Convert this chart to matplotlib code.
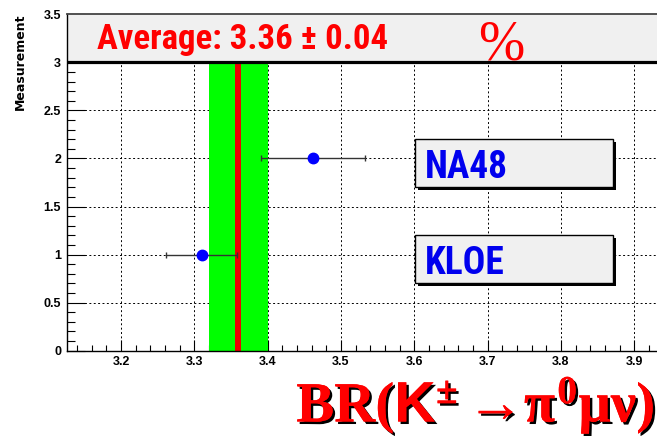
import matplotlib
matplotlib.use("Agg")
import matplotlib.pyplot as plt
from matplotlib.patches import Rectangle
from matplotlib import patheffects as pe
import numpy as np

# ---- data ----
experiments = ["KLOE", "NA48"]
exp_y = [1, 2]
exp_values = [3.310, 3.462]
exp_errors = [0.048, 0.071]
average = 3.36
average_err = 0.04
xtick_vals = [3.2, 3.3, 3.4, 3.5, 3.6, 3.7, 3.8, 3.9]
xtick_labels = ["3.2", "3.3", "3.4", "3.5", "3.6", "3.7", "3.8", "3.9"]
ytick_vals = [0, 0.5, 1, 1.5, 2, 2.5, 3, 3.5]
ytick_labels = ["0", "0.5", "1", "1.5", "2", "2.5", "3", "3.5"]

plt.rcParams['mathtext.fontset'] = 'custom'
plt.rcParams['mathtext.rm'] = 'Liberation Serif:bold'
plt.rcParams['mathtext.it'] = 'Liberation Serif:bold'
plt.rcParams['mathtext.bf'] = 'Liberation Serif:bold'
plt.rcParams['mathtext.sf'] = 'Liberation Sans:bold'

COND = ['Roboto Condensed', 'DejaVu Sans Condensed', 'Liberation Sans Narrow',
        'Arial Narrow', 'Liberation Sans']

W, H = 657, 436
fig = plt.figure(figsize=(W / 100, H / 100), dpi=100)
fig.patch.set_facecolor('white')

x0, x1 = 66.7, 657
yb, yt = 350.7, 14.3
ax = fig.add_axes([x0 / W, (H - yb) / H, (x1 - x0) / W, (yb - yt) / H])
ax.set_xlim(3.126, 3.931)
ax.set_ylim(0, 3.5)
ax.set_axisbelow(True)

# grid
ax.grid(True, which='major', color='black', linestyle=(0, (2, 2.5)), linewidth=0.7)

# ticks
ax.set_xticks(xtick_vals)
ax.set_xticklabels(xtick_labels)
ax.set_xticks(np.arange(3.14, 3.93, 0.02), minor=True)
ax.set_yticks(ytick_vals)
ax.set_yticklabels(ytick_labels)
ax.set_yticks(np.arange(0, 3.5, 0.1), minor=True)
ax.tick_params(axis='x', which='major', direction='in', length=8, width=0.8, pad=4)
ax.tick_params(axis='x', which='minor', direction='in', length=4.5, width=0.8)
ax.tick_params(axis='y', which='major', direction='in', length=13, width=0.8, pad=4)
ax.tick_params(axis='y', which='minor', direction='in', length=6, width=0.8)
for lab in ax.get_xticklabels() + ax.get_yticklabels():
    lab.set_fontfamily('Liberation Sans')
    lab.set_fontweight('bold')
    lab.set_fontsize(9)

ax.spines['right'].set_visible(False)
ax.spines['top'].set_color('#444444')
ax.spines['top'].set_linewidth(1.3)
ax.spines['left'].set_linewidth(1.0)
ax.spines['bottom'].set_linewidth(1.0)

# average header box
ax.axhspan(3, 3.5, color='#f0f0f0', zorder=1, linewidth=0)
ax.axhline(3, color='black', linewidth=2.3, zorder=3)

# average band
ax.axvspan(average - average_err, average + average_err, ymin=0, ymax=3 / 3.5,
           color='#00ff00', zorder=1.5, linewidth=0)
ax.plot([average, average], [0, 3], color='#ee0000', linewidth=4.3, zorder=1.6,
        solid_capstyle='butt')

# measurements
ax.errorbar(exp_values, exp_y, xerr=exp_errors, fmt='o', color='#0000ff',
            markersize=7.5, ecolor='#333333', elinewidth=1, capsize=2.2,
            capthick=1, zorder=4)

# label boxes
for name, yv in zip(experiments, exp_y):
    r = Rectangle((3.601, yv - 0.295), 0.270, 0.50, facecolor='#f0f0f0',
                  edgecolor='black', linewidth=1, zorder=5,
                  path_effects=[pe.withSimplePatchShadow(offset=(2, -2),
                                                         shadow_rgbFace='black',
                                                         alpha=1)])
    ax.add_patch(r)
    ax.text(3.615, yv - 0.09, name, color='#0000ee', fontsize=27,
            fontweight='bold', family=COND,
            ha='left', va='center', zorder=6)

# header text
fig.text(97 / W, (H - 49.5) / H,
         "Average: %.2f \u00b1 %.2f" % (average, average_err),
         color='#ff0000', fontsize=25, fontweight='bold',
         family=COND, ha='left', va='baseline')
fig.text(478 / W, (H - 59) / H, "%", color='#ff0000', fontsize=40,
         family=['Liberation Serif'], ha='left', va='baseline')

# y title
fig.text(20 / W, (H - 13) / H, "Measurement", rotation=90, fontsize=9,
         fontweight='bold', family=['DejaVu Sans'], ha='center', va='top')

# x title
fig.text(655 / W, (H - 421.7) / H,
         r'$\mathrm{BR(}\mathsf{K}^{\pm}\,\mathrm{→}\pi^{0}\mu\nu\mathrm{)}$',
         color='#ff0000', fontsize=41, ha='right', va='baseline',
         path_effects=[pe.withSimplePatchShadow(offset=(1.8, -1.8),
                                                shadow_rgbFace='black', alpha=1),
                       pe.Normal()])

fig.savefig("out.png", dpi=100)
